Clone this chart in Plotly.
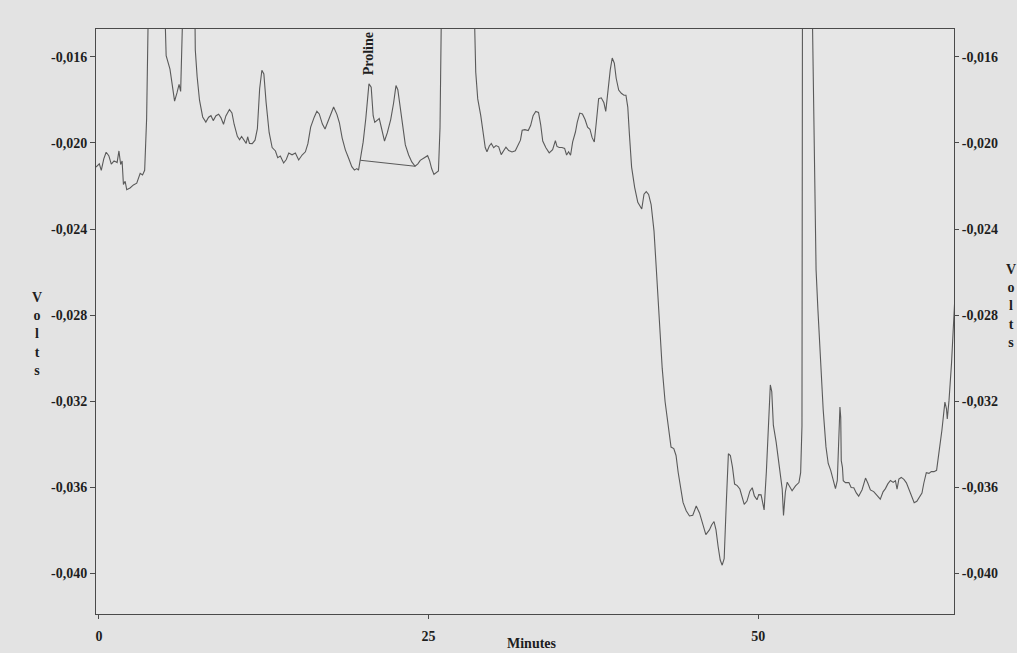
import plotly.graph_objects as go

# Chromatogram detector signal (minutes vs volts); off-scale peaks are given
# values above the visible range so the trace runs out through the top frame.
minutes = [
    -0.22, 0.03, 0.18, 0.37, 0.55, 0.75, 0.94, 1.15, 1.38, 1.52, 1.65, 1.76, 1.86, 1.99,
    2.11, 2.36, 2.62, 2.87, 3.13, 3.31, 3.47, 3.62, 3.79, 4.35, 4.92, 5.10, 5.39, 5.57,
    5.74, 5.92, 6.08, 6.20, 6.44, 6.85, 7.25, 7.31, 7.45, 7.63, 7.87, 8.11, 8.32, 8.50,
    8.67, 8.88, 9.08, 9.25, 9.45, 9.63, 9.90, 10.09, 10.26, 10.50, 10.67, 10.82, 11.00,
    11.17, 11.28, 11.42, 11.63, 11.84, 12.02, 12.19, 12.36, 12.51, 12.68, 12.91, 13.14,
    13.39, 13.56, 13.76, 14.01, 14.21, 14.40, 14.65, 14.90, 15.15, 15.41, 15.66, 15.85,
    16.06, 16.33, 16.53, 16.71, 16.95, 17.15, 17.39, 17.59, 17.80, 18.05, 18.24, 18.45,
    18.69, 18.94, 19.18, 19.38, 19.56, 19.69, 19.82, 20.04, 20.24, 20.48, 20.65, 20.80,
    20.92, 21.07, 21.26, 21.42, 21.66, 21.87, 22.13, 22.35, 22.53, 22.67, 22.86, 23.04,
    23.24, 23.49, 23.73, 23.98, 24.19, 24.37, 24.57, 24.75, 24.93, 25.08, 25.24, 25.41,
    25.62, 25.75, 25.87, 26.01, 27.20, 28.40, 28.58, 28.73, 28.96, 29.12, 29.30, 29.43,
    29.61, 29.76, 29.94, 30.12, 30.32, 30.51, 30.70, 30.87, 31.08, 31.33, 31.58, 31.79,
    31.97, 32.10, 32.31, 32.56, 32.74, 32.93, 33.13, 33.34, 33.50, 33.66, 33.90, 34.15,
    34.41, 34.62, 34.74, 34.91, 35.12, 35.32, 35.47, 35.62, 35.77, 35.93, 36.14, 36.28,
    36.47, 36.67, 36.87, 37.06, 37.24, 37.40, 37.57, 37.72, 37.90, 38.10, 38.30, 38.44,
    38.59, 38.78, 38.93, 39.09, 39.23, 39.42, 39.62, 39.82, 39.97, 40.11, 40.23, 40.40,
    40.63, 40.87, 41.17, 41.34, 41.51, 41.69, 41.88, 42.10, 42.27, 42.41, 42.56, 42.72,
    42.94, 43.17, 43.39, 43.60, 43.77, 43.93, 44.11, 44.30, 44.54, 44.79, 45.04, 45.30,
    45.55, 45.79, 46.03, 46.30, 46.47, 46.65, 46.80, 46.96, 47.12, 47.27, 47.42, 47.58,
    47.74, 47.89, 48.05, 48.21, 48.41, 48.61, 48.78, 48.94, 49.15, 49.37, 49.55, 49.71,
    49.91, 50.04, 50.22, 50.34, 50.45, 50.62, 50.82, 50.92, 51.03, 51.15, 51.36, 51.52,
    51.66, 51.82, 51.92, 52.06, 52.20, 52.40, 52.57, 52.83, 53.09, 53.22, 53.32, 53.36,
    53.70, 54.06, 54.39, 54.53, 54.73, 54.93, 55.14, 55.31, 55.50, 55.69, 55.86, 56.00,
    56.11, 56.20, 56.26, 56.30, 56.39, 56.45, 56.62, 56.88, 57.05, 57.25, 57.44, 57.62,
    57.88, 58.14, 58.32, 58.51, 58.76, 59.01, 59.26, 59.47, 59.65, 59.83, 60.03, 60.24,
    60.41, 60.53, 60.67, 60.85, 61.05, 61.24, 61.44, 61.66, 61.83, 62.03, 62.25, 62.42,
    62.56, 62.75, 62.95, 63.13, 63.33, 63.53, 63.73, 63.93, 64.16, 64.28, 64.34, 64.47,
    64.66, 64.89,
]

volts = [
    -0.02112, -0.02097, -0.02127, -0.02074, -0.02043, -0.02059, -0.02098, -0.02083,
    -0.02091, -0.02037, -0.02100, -0.02084, -0.02193, -0.02178, -0.02217, -0.02209,
    -0.02195, -0.02187, -0.02141, -0.02149, -0.02127, -0.01886, -0.01200, -0.00900,
    -0.01200, -0.01594, -0.01657, -0.01735, -0.01805, -0.01767, -0.01728, -0.01760,
    -0.01200, -0.00900, -0.01200, -0.01567, -0.01692, -0.01801, -0.01879, -0.01903,
    -0.01880, -0.01873, -0.01896, -0.01873, -0.01866, -0.01882, -0.01913, -0.01874,
    -0.01844, -0.01860, -0.01914, -0.01969, -0.01985, -0.01970, -0.01986, -0.02002,
    -0.01971, -0.02002, -0.02003, -0.01987, -0.01933, -0.01748, -0.01662, -0.01679,
    -0.01811, -0.01951, -0.02021, -0.02037, -0.02068, -0.02061, -0.02093, -0.02077,
    -0.02047, -0.02055, -0.02047, -0.02079, -0.02056, -0.02041, -0.02003, -0.01926,
    -0.01880, -0.01852, -0.01865, -0.01912, -0.01935, -0.01897, -0.01867, -0.01833,
    -0.01867, -0.01906, -0.01977, -0.02032, -0.02071, -0.02110, -0.02126, -0.02119,
    -0.02126, -0.02080, -0.01996, -0.01887, -0.01725, -0.01741, -0.01873, -0.01904,
    -0.01897, -0.01886, -0.01928, -0.01991, -0.01953, -0.01891, -0.01814, -0.01733,
    -0.01752, -0.01830, -0.01924, -0.02009, -0.02056, -0.02088, -0.02108, -0.02097,
    -0.02081, -0.02074, -0.02067, -0.02059, -0.02082, -0.02120, -0.02146, -0.02138,
    -0.02130, -0.01928, -0.01200, -0.00500, -0.01200, -0.01671, -0.01795, -0.01873,
    -0.01951, -0.02021, -0.02041, -0.02014, -0.02002, -0.02022, -0.02012, -0.02018,
    -0.02054, -0.02035, -0.02019, -0.02035, -0.02042, -0.02036, -0.02010, -0.01987,
    -0.01941, -0.01938, -0.01942, -0.01919, -0.01873, -0.01853, -0.01858, -0.01913,
    -0.01991, -0.02022, -0.02046, -0.02031, -0.01989, -0.02016, -0.02021, -0.02021,
    -0.02025, -0.02056, -0.02041, -0.02057, -0.01995, -0.01949, -0.01903, -0.01861,
    -0.01865, -0.01891, -0.01927, -0.01936, -0.01974, -0.01995, -0.01906, -0.01794,
    -0.01790, -0.01813, -0.01853, -0.01752, -0.01660, -0.01605, -0.01629, -0.01699,
    -0.01754, -0.01769, -0.01778, -0.01778, -0.01833, -0.01957, -0.02112, -0.02206,
    -0.02276, -0.02307, -0.02238, -0.02226, -0.02239, -0.02286, -0.02410, -0.02581,
    -0.02737, -0.02892, -0.03047, -0.03203, -0.03312, -0.03414, -0.03421, -0.03453,
    -0.03531, -0.03608, -0.03671, -0.03710, -0.03734, -0.03731, -0.03688, -0.03720,
    -0.03774, -0.03821, -0.03799, -0.03776, -0.03760, -0.03799, -0.03876, -0.03939,
    -0.03963, -0.03933, -0.03676, -0.03445, -0.03453, -0.03507, -0.03586, -0.03593,
    -0.03609, -0.03648, -0.03680, -0.03665, -0.03619, -0.03603, -0.03641, -0.03659,
    -0.03635, -0.03636, -0.03683, -0.03706, -0.03528, -0.03218, -0.03125, -0.03156,
    -0.03312, -0.03390, -0.03467, -0.03546, -0.03608, -0.03732, -0.03624, -0.03577,
    -0.03601, -0.03617, -0.03594, -0.03579, -0.03533, -0.03316, -0.01200, -0.00500,
    -0.01200, -0.02590, -0.02775, -0.03008, -0.03241, -0.03413, -0.03490, -0.03522,
    -0.03569, -0.03607, -0.03569, -0.03368, -0.03228, -0.03275, -0.03477, -0.03508,
    -0.03570, -0.03579, -0.03579, -0.03602, -0.03603, -0.03627, -0.03642, -0.03612,
    -0.03558, -0.03582, -0.03613, -0.03621, -0.03637, -0.03656, -0.03622, -0.03607,
    -0.03585, -0.03569, -0.03578, -0.03570, -0.03609, -0.03563, -0.03555, -0.03564,
    -0.03580, -0.03611, -0.03650, -0.03673, -0.03666, -0.03643, -0.03628, -0.03582,
    -0.03533, -0.03536, -0.03528, -0.03528, -0.03522, -0.03429, -0.03337, -0.03205,
    -0.03236, -0.03283, -0.03198, -0.03027, -0.02749,
]

# Integration baseline drawn under the proline peak
proline_base_min = [19.82, 23.98]
proline_base_volts = [-0.02080, -0.02108]
proline_label = "Proline"
proline_label_pos = (20.45, -0.01585)

volt_ticks = [-0.016, -0.020, -0.024, -0.028, -0.032, -0.036, -0.040]
volt_tick_text = ["-0,016", "-0,020", "-0,024", "-0,028", "-0,032", "-0,036", "-0,040"]
minute_ticks = [0, 25, 50]
minute_tick_text = ["0", "25", "50"]

x_range = [-0.22, 64.85]
y_range = [-0.0419, -0.0147]

LINE = "#5a5a5a"
FRAME = "#4a4a4a"
SERIF = "Liberation Serif"
tick_font = dict(family=SERIF, size=14, color="#1e1e1e", weight="bold")

fig = go.Figure()
fig.add_trace(go.Scatter(
    x=minutes, y=volts, mode="lines",
    line=dict(color=LINE, width=1.1),
    showlegend=False, hoverinfo="skip",
))
fig.add_trace(go.Scatter(
    x=proline_base_min, y=proline_base_volts, mode="lines",
    line=dict(color=LINE, width=1.1),
    showlegend=False, hoverinfo="skip",
))
# Invisible trace that carries the right-hand volt axis
fig.add_trace(go.Scatter(
    x=[minutes[0]], y=[volts[0]], yaxis="y2", mode="markers",
    marker=dict(opacity=0), showlegend=False, hoverinfo="skip",
))

axis_common = dict(
    showgrid=False, zeroline=False, showline=True, linecolor=FRAME, linewidth=1,
    ticks="outside", tickcolor=FRAME, tickwidth=1, tickfont=tick_font,
    automargin=False,
)

fig.update_layout(
    width=1017, height=653,
    margin=dict(l=96, r=63, t=29, b=39),
    paper_bgcolor="#e3e3e3",
    plot_bgcolor="#e6e6e6",
    xaxis=dict(
        range=x_range, tickvals=minute_ticks, ticktext=minute_tick_text,
        ticklen=4, ticklabelstandoff=5, mirror=True, **axis_common,
    ),
    yaxis=dict(
        range=y_range, tickvals=volt_ticks, ticktext=volt_tick_text,
        ticklen=5, mirror=True, **axis_common,
    ),
    yaxis2=dict(
        range=y_range, tickvals=volt_ticks, ticktext=volt_tick_text,
        overlaying="y", side="right", ticklen=4, **axis_common,
    ),
    annotations=[
        dict(text=proline_label, x=proline_label_pos[0], y=proline_label_pos[1],
             xref="x", yref="y", textangle=-90, showarrow=False,
             xanchor="center", yanchor="middle",
             font=dict(family=SERIF, size=14, color="#1e1e1e", weight="bold")),
        dict(text="V<br>o<br>l<br>t<br>s", x=-0.0688, y=0.4786,
             xref="paper", yref="paper", showarrow=False,
             xanchor="center", yanchor="middle", align="center",
             font=dict(family=SERIF, size=14, color="#1e1e1e", weight="bold")),
        dict(text="V<br>o<br>l<br>t<br>s", x=1.0660, y=0.5265,
             xref="paper", yref="paper", showarrow=False,
             xanchor="center", yanchor="middle", align="center",
             font=dict(family=SERIF, size=14, color="#1e1e1e", weight="bold")),
        dict(text="Minutes", x=0.508, y=-0.0496,
             xref="paper", yref="paper", showarrow=False,
             xanchor="center", yanchor="middle",
             font=dict(family=SERIF, size=14, color="#1e1e1e", weight="bold")),
    ],
)

fig.write_html("out.html")
